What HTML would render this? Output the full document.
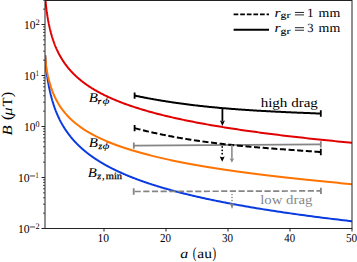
<!DOCTYPE html>
<html><head><meta charset="utf-8"><style>
html,body{margin:0;padding:0;background:#fff;}
svg{display:block;}
text{font-family:"Liberation Serif",serif;text-rendering:geometricPrecision;}
</style></head><body>
<svg width="357" height="262" viewBox="0 0 357 262">
<rect width="357" height="262" fill="#fff"/>
<defs><clipPath id="ax"><rect x="45.0" y="0.0" width="307.0" height="228.5"/></clipPath></defs>

<g clip-path="url(#ax)" fill="none" stroke-linecap="butt" stroke-linejoin="round">
<path d="M45.20,55.40 L46.13,68.04 L46.17,68.37 L46.20,68.70 L46.24,69.03 L46.28,69.35 L46.32,69.68 L46.36,70.01 L46.40,70.34 L46.44,70.66 L46.48,70.99 L46.53,71.32 L46.57,71.64 L46.61,71.97 L46.65,72.30 L46.70,72.63 L46.74,72.95 L46.78,73.28 L46.83,73.61 L46.87,73.94 L46.92,74.26 L46.96,74.59 L47.01,74.92 L47.06,75.25 L47.10,75.57 L47.15,75.90 L47.20,76.23 L47.25,76.55 L47.29,76.88 L47.34,77.21 L47.39,77.54 L47.44,77.86 L47.49,78.19 L47.54,78.52 L47.60,78.85 L47.65,79.17 L47.70,79.50 L47.75,79.83 L47.81,80.16 L47.86,80.48 L47.91,80.81 L47.97,81.14 L48.02,81.46 L48.08,81.79 L48.14,82.12 L48.19,82.45 L48.25,82.77 L48.31,83.10 L48.37,83.43 L48.43,83.76 L48.49,84.08 L48.55,84.41 L48.61,84.74 L48.67,85.07 L48.73,85.39 L48.79,85.72 L48.86,86.05 L48.92,86.37 L48.98,86.70 L49.05,87.03 L49.11,87.36 L49.18,87.68 L49.25,88.01 L49.31,88.34 L49.38,88.67 L49.45,88.99 L49.52,89.32 L49.59,89.65 L49.66,89.98 L49.73,90.30 L49.80,90.63 L49.87,90.96 L49.95,91.29 L50.02,91.61 L50.09,91.94 L50.17,92.27 L50.25,92.59 L50.32,92.92 L50.40,93.25 L50.48,93.58 L50.56,93.90 L50.63,94.23 L50.71,94.56 L50.80,94.89 L50.88,95.21 L50.96,95.54 L51.04,95.87 L51.13,96.20 L51.21,96.52 L51.30,96.85 L51.38,97.18 L51.47,97.50 L51.56,97.83 L51.65,98.16 L51.74,98.49 L51.83,98.81 L51.92,99.14 L52.01,99.47 L52.10,99.80 L52.20,100.12 L52.29,100.45 L52.39,100.78 L52.48,101.11 L52.58,101.43 L52.68,101.76 L52.78,102.09 L52.88,102.41 L52.98,102.74 L53.08,103.07 L53.18,103.40 L53.28,103.72 L53.39,104.05 L53.49,104.38 L53.60,104.71 L53.71,105.03 L53.82,105.36 L53.93,105.69 L54.04,106.02 L54.15,106.34 L54.26,106.67 L54.38,107.00 L54.49,107.32 L54.61,107.65 L54.72,107.98 L54.84,108.31 L54.96,108.63 L55.08,108.96 L55.20,109.29 L55.32,109.62 L55.45,109.94 L55.57,110.27 L55.70,110.60 L55.82,110.93 L55.95,111.25 L56.08,111.58 L56.21,111.91 L56.34,112.23 L56.48,112.56 L56.61,112.89 L56.75,113.22 L56.88,113.54 L57.02,113.87 L57.16,114.20 L57.30,114.53 L57.44,114.85 L57.59,115.18 L57.73,115.51 L57.88,115.84 L58.02,116.16 L58.17,116.49 L58.32,116.82 L58.47,117.14 L58.63,117.47 L58.78,117.80 L58.94,118.13 L59.09,118.45 L59.25,118.78 L59.41,119.11 L59.57,119.44 L59.74,119.76 L59.90,120.09 L60.07,120.42 L60.23,120.75 L60.40,121.07 L60.57,121.40 L60.75,121.73 L60.92,122.06 L61.10,122.38 L61.27,122.71 L61.45,123.04 L61.63,123.36 L61.81,123.69 L62.00,124.02 L62.18,124.35 L62.37,124.67 L62.56,125.00 L62.75,125.33 L62.94,125.66 L63.14,125.98 L63.33,126.31 L63.53,126.64 L63.73,126.97 L63.93,127.29 L64.13,127.62 L64.34,127.95 L64.55,128.27 L64.76,128.60 L64.97,128.93 L65.18,129.26 L65.39,129.58 L65.61,129.91 L65.83,130.24 L66.05,130.57 L66.27,130.89 L66.50,131.22 L66.73,131.55 L66.96,131.88 L67.19,132.20 L67.42,132.53 L67.66,132.86 L67.89,133.18 L68.13,133.51 L68.38,133.84 L68.62,134.17 L68.87,134.49 L69.12,134.82 L69.37,135.15 L69.62,135.48 L69.88,135.80 L70.14,136.13 L70.40,136.46 L70.66,136.79 L70.93,137.11 L71.20,137.44 L71.47,137.77 L71.74,138.09 L72.01,138.42 L72.29,138.75 L72.57,139.08 L72.86,139.40 L73.14,139.73 L73.43,140.06 L73.72,140.39 L74.02,140.71 L74.31,141.04 L74.61,141.37 L74.92,141.70 L75.22,142.02 L75.53,142.35 L75.84,142.68 L76.15,143.00 L76.47,143.33 L76.79,143.66 L77.11,143.99 L77.44,144.31 L77.77,144.64 L78.10,144.97 L78.43,145.30 L78.77,145.62 L79.11,145.95 L79.46,146.28 L79.80,146.61 L80.15,146.93 L80.51,147.26 L80.86,147.59 L81.23,147.91 L81.59,148.24 L81.96,148.57 L82.33,148.90 L82.70,149.22 L83.08,149.55 L83.46,149.88 L83.84,150.21 L84.23,150.53 L84.62,150.86 L85.02,151.19 L85.42,151.52 L85.82,151.84 L86.23,152.17 L86.64,152.50 L87.05,152.83 L87.47,153.15 L87.89,153.48 L88.31,153.81 L88.74,154.13 L89.18,154.46 L89.61,154.79 L90.06,155.12 L90.50,155.44 L90.95,155.77 L91.40,156.10 L91.86,156.43 L92.32,156.75 L92.79,157.08 L93.26,157.41 L93.74,157.74 L94.22,158.06 L94.70,158.39 L95.19,158.72 L95.68,159.04 L96.18,159.37 L96.68,159.70 L97.19,160.03 L97.70,160.35 L98.22,160.68 L98.74,161.01 L99.27,161.34 L99.80,161.66 L100.33,161.99 L100.87,162.32 L101.42,162.65 L101.97,162.97 L102.53,163.30 L103.09,163.63 L103.65,163.95 L104.23,164.28 L104.80,164.61 L105.38,164.94 L105.97,165.26 L106.57,165.59 L107.16,165.92 L107.77,166.25 L108.38,166.57 L108.99,166.90 L109.61,167.23 L110.24,167.56 L110.87,167.88 L111.51,168.21 L112.16,168.54 L112.81,168.86 L113.46,169.19 L114.13,169.52 L114.80,169.85 L115.47,170.17 L116.15,170.50 L116.84,170.83 L117.53,171.16 L118.23,171.48 L118.94,171.81 L119.65,172.14 L120.37,172.47 L121.10,172.79 L121.83,173.12 L122.57,173.45 L123.32,173.77 L124.07,174.10 L124.84,174.43 L125.60,174.76 L126.38,175.08 L127.16,175.41 L127.95,175.74 L128.75,176.07 L129.55,176.39 L130.36,176.72 L131.18,177.05 L132.01,177.38 L132.84,177.70 L133.69,178.03 L134.54,178.36 L135.39,178.68 L136.26,179.01 L137.13,179.34 L138.02,179.67 L138.91,179.99 L139.80,180.32 L140.71,180.65 L141.63,180.98 L142.55,181.30 L143.48,181.63 L144.42,181.96 L145.37,182.29 L146.33,182.61 L147.30,182.94 L148.28,183.27 L149.26,183.60 L150.25,183.92 L151.26,184.25 L152.27,184.58 L153.29,184.90 L154.33,185.23 L155.37,185.56 L156.42,185.89 L157.48,186.21 L158.55,186.54 L159.63,186.87 L160.72,187.20 L161.82,187.52 L162.93,187.85 L164.05,188.18 L165.19,188.51 L166.33,188.83 L167.48,189.16 L168.64,189.49 L169.82,189.81 L171.00,190.14 L172.20,190.47 L173.41,190.80 L174.62,191.12 L175.85,191.45 L177.10,191.78 L178.35,192.11 L179.61,192.43 L180.89,192.76 L182.18,193.09 L183.48,193.42 L184.79,193.74 L186.11,194.07 L187.45,194.40 L188.80,194.72 L190.16,195.05 L191.53,195.38 L192.92,195.71 L194.32,196.03 L195.73,196.36 L197.15,196.69 L198.59,197.02 L200.04,197.34 L201.51,197.67 L202.99,198.00 L204.48,198.33 L205.99,198.65 L207.51,198.98 L209.04,199.31 L210.59,199.63 L212.15,199.96 L213.73,200.29 L215.32,200.62 L216.93,200.94 L218.55,201.27 L220.19,201.60 L221.84,201.93 L223.51,202.25 L225.19,202.58 L226.89,202.91 L228.60,203.24 L230.33,203.56 L232.08,203.89 L233.84,204.22 L235.62,204.54 L237.42,204.87 L239.23,205.20 L241.06,205.53 L242.90,205.85 L244.76,206.18 L246.64,206.51 L248.54,206.84 L250.46,207.16 L252.39,207.49 L254.34,207.82 L256.31,208.15 L258.30,208.47 L260.30,208.80 L262.33,209.13 L264.37,209.45 L266.43,209.78 L268.51,210.11 L270.61,210.44 L272.73,210.76 L274.87,211.09 L277.03,211.42 L279.21,211.75 L281.41,212.07 L283.63,212.40 L285.87,212.73 L288.13,213.06 L290.41,213.38 L292.71,213.71 L295.04,214.04 L297.38,214.37 L299.75,214.69 L302.14,215.02 L304.55,215.35 L306.99,215.67 L309.44,216.00 L311.92,216.33 L314.43,216.66 L316.95,216.98 L319.50,217.31 L322.07,217.64 L324.67,217.97 L327.29,218.29 L329.94,218.62 L332.61,218.95 L335.30,219.28 L338.02,219.60 L340.76,219.93 L343.53,220.26 L346.33,220.58 L349.15,220.91 L352.00,221.24" stroke="#0a3be0" stroke-width="2"/>
<path d="M45.20,55.40 L46.13,65.95 L46.17,66.21 L46.20,66.46 L46.24,66.71 L46.28,66.96 L46.32,67.22 L46.36,67.47 L46.40,67.72 L46.44,67.97 L46.48,68.23 L46.53,68.48 L46.57,68.73 L46.61,68.98 L46.65,69.24 L46.70,69.49 L46.74,69.74 L46.78,69.99 L46.83,70.25 L46.87,70.50 L46.92,70.75 L46.96,71.00 L47.01,71.26 L47.06,71.51 L47.10,71.76 L47.15,72.01 L47.20,72.27 L47.25,72.52 L47.29,72.77 L47.34,73.02 L47.39,73.28 L47.44,73.53 L47.49,73.78 L47.54,74.03 L47.60,74.29 L47.65,74.54 L47.70,74.79 L47.75,75.04 L47.81,75.30 L47.86,75.55 L47.91,75.80 L47.97,76.05 L48.02,76.31 L48.08,76.56 L48.14,76.81 L48.19,77.06 L48.25,77.32 L48.31,77.57 L48.37,77.82 L48.43,78.07 L48.49,78.33 L48.55,78.58 L48.61,78.83 L48.67,79.08 L48.73,79.34 L48.79,79.59 L48.86,79.84 L48.92,80.09 L48.98,80.35 L49.05,80.60 L49.11,80.85 L49.18,81.10 L49.25,81.36 L49.31,81.61 L49.38,81.86 L49.45,82.11 L49.52,82.37 L49.59,82.62 L49.66,82.87 L49.73,83.12 L49.80,83.38 L49.87,83.63 L49.95,83.88 L50.02,84.13 L50.09,84.39 L50.17,84.64 L50.25,84.89 L50.32,85.15 L50.40,85.40 L50.48,85.65 L50.56,85.90 L50.63,86.16 L50.71,86.41 L50.80,86.66 L50.88,86.91 L50.96,87.17 L51.04,87.42 L51.13,87.67 L51.21,87.92 L51.30,88.18 L51.38,88.43 L51.47,88.68 L51.56,88.93 L51.65,89.19 L51.74,89.44 L51.83,89.69 L51.92,89.94 L52.01,90.20 L52.10,90.45 L52.20,90.70 L52.29,90.95 L52.39,91.21 L52.48,91.46 L52.58,91.71 L52.68,91.96 L52.78,92.22 L52.88,92.47 L52.98,92.72 L53.08,92.97 L53.18,93.23 L53.28,93.48 L53.39,93.73 L53.49,93.98 L53.60,94.24 L53.71,94.49 L53.82,94.74 L53.93,94.99 L54.04,95.25 L54.15,95.50 L54.26,95.75 L54.38,96.00 L54.49,96.26 L54.61,96.51 L54.72,96.76 L54.84,97.01 L54.96,97.27 L55.08,97.52 L55.20,97.77 L55.32,98.02 L55.45,98.28 L55.57,98.53 L55.70,98.78 L55.82,99.03 L55.95,99.29 L56.08,99.54 L56.21,99.79 L56.34,100.04 L56.48,100.30 L56.61,100.55 L56.75,100.80 L56.88,101.05 L57.02,101.31 L57.16,101.56 L57.30,101.81 L57.44,102.06 L57.59,102.32 L57.73,102.57 L57.88,102.82 L58.02,103.07 L58.17,103.33 L58.32,103.58 L58.47,103.83 L58.63,104.08 L58.78,104.34 L58.94,104.59 L59.09,104.84 L59.25,105.09 L59.41,105.35 L59.57,105.60 L59.74,105.85 L59.90,106.10 L60.07,106.36 L60.23,106.61 L60.40,106.86 L60.57,107.11 L60.75,107.37 L60.92,107.62 L61.10,107.87 L61.27,108.12 L61.45,108.38 L61.63,108.63 L61.81,108.88 L62.00,109.14 L62.18,109.39 L62.37,109.64 L62.56,109.89 L62.75,110.15 L62.94,110.40 L63.14,110.65 L63.33,110.90 L63.53,111.16 L63.73,111.41 L63.93,111.66 L64.13,111.91 L64.34,112.17 L64.55,112.42 L64.76,112.67 L64.97,112.92 L65.18,113.18 L65.39,113.43 L65.61,113.68 L65.83,113.93 L66.05,114.19 L66.27,114.44 L66.50,114.69 L66.73,114.94 L66.96,115.20 L67.19,115.45 L67.42,115.70 L67.66,115.95 L67.89,116.21 L68.13,116.46 L68.38,116.71 L68.62,116.96 L68.87,117.22 L69.12,117.47 L69.37,117.72 L69.62,117.97 L69.88,118.23 L70.14,118.48 L70.40,118.73 L70.66,118.98 L70.93,119.24 L71.20,119.49 L71.47,119.74 L71.74,119.99 L72.01,120.25 L72.29,120.50 L72.57,120.75 L72.86,121.00 L73.14,121.26 L73.43,121.51 L73.72,121.76 L74.02,122.01 L74.31,122.27 L74.61,122.52 L74.92,122.77 L75.22,123.02 L75.53,123.28 L75.84,123.53 L76.15,123.78 L76.47,124.03 L76.79,124.29 L77.11,124.54 L77.44,124.79 L77.77,125.04 L78.10,125.30 L78.43,125.55 L78.77,125.80 L79.11,126.05 L79.46,126.31 L79.80,126.56 L80.15,126.81 L80.51,127.06 L80.86,127.32 L81.23,127.57 L81.59,127.82 L81.96,128.07 L82.33,128.33 L82.70,128.58 L83.08,128.83 L83.46,129.08 L83.84,129.34 L84.23,129.59 L84.62,129.84 L85.02,130.09 L85.42,130.35 L85.82,130.60 L86.23,130.85 L86.64,131.10 L87.05,131.36 L87.47,131.61 L87.89,131.86 L88.31,132.11 L88.74,132.37 L89.18,132.62 L89.61,132.87 L90.06,133.13 L90.50,133.38 L90.95,133.63 L91.40,133.88 L91.86,134.14 L92.32,134.39 L92.79,134.64 L93.26,134.89 L93.74,135.15 L94.22,135.40 L94.70,135.65 L95.19,135.90 L95.68,136.16 L96.18,136.41 L96.68,136.66 L97.19,136.91 L97.70,137.17 L98.22,137.42 L98.74,137.67 L99.27,137.92 L99.80,138.18 L100.33,138.43 L100.87,138.68 L101.42,138.93 L101.97,139.19 L102.53,139.44 L103.09,139.69 L103.65,139.94 L104.23,140.20 L104.80,140.45 L105.38,140.70 L105.97,140.95 L106.57,141.21 L107.16,141.46 L107.77,141.71 L108.38,141.96 L108.99,142.22 L109.61,142.47 L110.24,142.72 L110.87,142.97 L111.51,143.23 L112.16,143.48 L112.81,143.73 L113.46,143.98 L114.13,144.24 L114.80,144.49 L115.47,144.74 L116.15,144.99 L116.84,145.25 L117.53,145.50 L118.23,145.75 L118.94,146.00 L119.65,146.26 L120.37,146.51 L121.10,146.76 L121.83,147.01 L122.57,147.27 L123.32,147.52 L124.07,147.77 L124.84,148.02 L125.60,148.28 L126.38,148.53 L127.16,148.78 L127.95,149.03 L128.75,149.29 L129.55,149.54 L130.36,149.79 L131.18,150.04 L132.01,150.30 L132.84,150.55 L133.69,150.80 L134.54,151.05 L135.39,151.31 L136.26,151.56 L137.13,151.81 L138.02,152.06 L138.91,152.32 L139.80,152.57 L140.71,152.82 L141.63,153.07 L142.55,153.33 L143.48,153.58 L144.42,153.83 L145.37,154.08 L146.33,154.34 L147.30,154.59 L148.28,154.84 L149.26,155.09 L150.25,155.35 L151.26,155.60 L152.27,155.85 L153.29,156.11 L154.33,156.36 L155.37,156.61 L156.42,156.86 L157.48,157.12 L158.55,157.37 L159.63,157.62 L160.72,157.87 L161.82,158.13 L162.93,158.38 L164.05,158.63 L165.19,158.88 L166.33,159.14 L167.48,159.39 L168.64,159.64 L169.82,159.89 L171.00,160.15 L172.20,160.40 L173.41,160.65 L174.62,160.90 L175.85,161.16 L177.10,161.41 L178.35,161.66 L179.61,161.91 L180.89,162.17 L182.18,162.42 L183.48,162.67 L184.79,162.92 L186.11,163.18 L187.45,163.43 L188.80,163.68 L190.16,163.93 L191.53,164.19 L192.92,164.44 L194.32,164.69 L195.73,164.94 L197.15,165.20 L198.59,165.45 L200.04,165.70 L201.51,165.95 L202.99,166.21 L204.48,166.46 L205.99,166.71 L207.51,166.96 L209.04,167.22 L210.59,167.47 L212.15,167.72 L213.73,167.97 L215.32,168.23 L216.93,168.48 L218.55,168.73 L220.19,168.98 L221.84,169.24 L223.51,169.49 L225.19,169.74 L226.89,169.99 L228.60,170.25 L230.33,170.50 L232.08,170.75 L233.84,171.00 L235.62,171.26 L237.42,171.51 L239.23,171.76 L241.06,172.01 L242.90,172.27 L244.76,172.52 L246.64,172.77 L248.54,173.02 L250.46,173.28 L252.39,173.53 L254.34,173.78 L256.31,174.03 L258.30,174.29 L260.30,174.54 L262.33,174.79 L264.37,175.04 L266.43,175.30 L268.51,175.55 L270.61,175.80 L272.73,176.05 L274.87,176.31 L277.03,176.56 L279.21,176.81 L281.41,177.06 L283.63,177.32 L285.87,177.57 L288.13,177.82 L290.41,178.07 L292.71,178.33 L295.04,178.58 L297.38,178.83 L299.75,179.08 L302.14,179.34 L304.55,179.59 L306.99,179.84 L309.44,180.10 L311.92,180.35 L314.43,180.60 L316.95,180.85 L319.50,181.11 L322.07,181.36 L324.67,181.61 L327.29,181.86 L329.94,182.12 L332.61,182.37 L335.30,182.62 L338.02,182.87 L340.76,183.13 L343.53,183.38 L346.33,183.63 L349.15,183.88 L352.00,184.14" stroke="#ff7300" stroke-width="2"/>
<path d="M44.79,-6.85 L44.82,-6.52 L44.84,-6.19 L44.87,-5.86 L44.90,-5.53 L44.92,-5.20 L44.95,-4.88 L44.98,-4.55 L45.01,-4.22 L45.04,-3.89 L45.07,-3.56 L45.10,-3.23 L45.12,-2.91 L45.15,-2.58 L45.18,-2.25 L45.21,-1.92 L45.24,-1.60 L45.28,-1.27 L45.31,-0.94 L45.34,-0.62 L45.37,-0.29 L45.40,0.04 L45.43,0.36 L45.47,0.69 L45.50,1.02 L45.53,1.34 L45.57,1.67 L45.60,1.99 L45.63,2.32 L45.67,2.65 L45.70,2.97 L45.74,3.30 L45.77,3.62 L45.81,3.95 L45.85,4.27 L45.88,4.60 L45.92,4.92 L45.96,5.25 L45.99,5.57 L46.03,5.90 L46.07,6.22 L46.11,6.55 L46.15,6.87 L46.19,7.19 L46.23,7.52 L46.27,7.84 L46.31,8.17 L46.35,8.49 L46.39,8.81 L46.43,9.14 L46.47,9.46 L46.52,9.78 L46.56,10.11 L46.60,10.43 L46.65,10.75 L46.69,11.07 L46.73,11.40 L46.78,11.72 L46.82,12.04 L46.87,12.36 L46.92,12.69 L46.96,13.01 L47.01,13.33 L47.06,13.65 L47.10,13.97 L47.15,14.29 L47.20,14.62 L47.25,14.94 L47.30,15.26 L47.35,15.58 L47.40,15.90 L47.45,16.22 L47.51,16.54 L47.56,16.86 L47.61,17.18 L47.66,17.50 L47.72,17.82 L47.77,18.14 L47.83,18.46 L47.88,18.78 L47.94,19.10 L47.99,19.42 L48.05,19.74 L48.11,20.06 L48.17,20.38 L48.22,20.70 L48.28,21.02 L48.34,21.34 L48.40,21.66 L48.46,21.98 L48.52,22.29 L48.59,22.61 L48.65,22.93 L48.71,23.25 L48.78,23.57 L48.84,23.89 L48.91,24.20 L48.97,24.52 L49.04,24.84 L49.10,25.16 L49.17,25.47 L49.24,25.79 L49.31,26.11 L49.38,26.43 L49.45,26.74 L49.52,27.06 L49.59,27.38 L49.66,27.69 L49.73,28.01 L49.81,28.32 L49.88,28.64 L49.96,28.96 L50.03,29.27 L50.11,29.59 L50.18,29.90 L50.26,30.22 L50.34,30.54 L50.42,30.85 L50.50,31.17 L50.58,31.48 L50.66,31.80 L50.74,32.11 L50.83,32.43 L50.91,32.74 L50.99,33.06 L51.08,33.37 L51.17,33.68 L51.25,34.00 L51.34,34.31 L51.43,34.63 L51.52,34.94 L51.61,35.25 L51.70,35.57 L51.79,35.88 L51.88,36.20 L51.98,36.51 L52.07,36.82 L52.17,37.13 L52.27,37.45 L52.36,37.76 L52.46,38.07 L52.56,38.39 L52.66,38.70 L52.76,39.01 L52.86,39.32 L52.97,39.63 L53.07,39.95 L53.18,40.26 L53.28,40.57 L53.39,40.88 L53.50,41.19 L53.61,41.51 L53.72,41.82 L53.83,42.13 L53.94,42.44 L54.05,42.75 L54.17,43.06 L54.28,43.37 L54.40,43.68 L54.52,43.99 L54.63,44.30 L54.75,44.61 L54.88,44.92 L55.00,45.23 L55.12,45.54 L55.25,45.85 L55.37,46.16 L55.50,46.47 L55.63,46.78 L55.75,47.09 L55.89,47.40 L56.02,47.71 L56.15,48.02 L56.28,48.33 L56.42,48.63 L56.56,48.94 L56.69,49.25 L56.83,49.56 L56.97,49.87 L57.12,50.18 L57.26,50.48 L57.40,50.79 L57.55,51.10 L57.70,51.41 L57.85,51.72 L58.00,52.02 L58.15,52.33 L58.30,52.64 L58.46,52.94 L58.61,53.25 L58.77,53.56 L58.93,53.86 L59.09,54.17 L59.25,54.48 L59.42,54.78 L59.58,55.09 L59.75,55.40 L59.92,55.70 L60.09,56.01 L60.26,56.31 L60.43,56.62 L60.61,56.93 L60.78,57.23 L60.96,57.54 L61.14,57.84 L61.32,58.15 L61.50,58.45 L61.69,58.76 L61.88,59.06 L62.07,59.37 L62.26,59.67 L62.45,59.97 L62.64,60.28 L62.84,60.58 L63.04,60.89 L63.23,61.19 L63.44,61.49 L63.64,61.80 L63.84,62.10 L64.05,62.41 L64.26,62.71 L64.47,63.01 L64.69,63.31 L64.90,63.62 L65.12,63.92 L65.34,64.22 L65.56,64.53 L65.78,64.83 L66.01,65.13 L66.23,65.43 L66.46,65.73 L66.70,66.04 L66.93,66.34 L67.17,66.64 L67.41,66.94 L67.65,67.24 L67.89,67.55 L68.14,67.85 L68.38,68.15 L68.63,68.45 L68.89,68.75 L69.14,69.05 L69.40,69.35 L69.66,69.65 L69.92,69.95 L70.19,70.25 L70.45,70.55 L70.72,70.85 L71.00,71.15 L71.27,71.45 L71.55,71.75 L71.83,72.05 L72.11,72.35 L72.40,72.65 L72.69,72.95 L72.98,73.25 L73.27,73.55 L73.57,73.85 L73.87,74.15 L74.17,74.45 L74.47,74.74 L74.78,75.04 L75.09,75.34 L75.41,75.64 L75.72,75.94 L76.04,76.24 L76.37,76.53 L76.69,76.83 L77.02,77.13 L77.35,77.43 L77.69,77.72 L78.03,78.02 L78.37,78.32 L78.71,78.62 L79.06,78.91 L79.41,79.21 L79.77,79.51 L80.13,79.80 L80.49,80.10 L80.85,80.40 L81.22,80.69 L81.59,80.99 L81.97,81.28 L82.35,81.58 L82.73,81.88 L83.12,82.17 L83.51,82.47 L83.90,82.76 L84.30,83.06 L84.70,83.35 L85.10,83.65 L85.51,83.94 L85.93,84.24 L86.34,84.53 L86.76,84.83 L87.19,85.12 L87.62,85.42 L88.05,85.71 L88.49,86.00 L88.93,86.30 L89.37,86.59 L89.82,86.89 L90.27,87.18 L90.73,87.47 L91.19,87.77 L91.66,88.06 L92.13,88.35 L92.61,88.65 L93.09,88.94 L93.57,89.23 L94.06,89.52 L94.56,89.82 L95.05,90.11 L95.56,90.40 L96.06,90.69 L96.58,90.99 L97.10,91.28 L97.62,91.57 L98.15,91.86 L98.68,92.15 L99.22,92.45 L99.76,92.74 L100.31,93.03 L100.86,93.32 L101.42,93.61 L101.98,93.90 L102.55,94.19 L103.12,94.48 L103.70,94.77 L104.29,95.06 L104.88,95.35 L105.48,95.64 L106.08,95.93 L106.69,96.22 L107.30,96.51 L107.92,96.80 L108.54,97.09 L109.18,97.38 L109.81,97.67 L110.46,97.96 L111.10,98.25 L111.76,98.54 L112.42,98.83 L113.09,99.12 L113.76,99.41 L114.44,99.70 L115.13,99.98 L115.83,100.27 L116.53,100.56 L117.23,100.85 L117.95,101.14 L118.67,101.43 L119.39,101.71 L120.13,102.00 L120.87,102.29 L121.62,102.58 L122.37,102.86 L123.13,103.15 L123.90,103.44 L124.68,103.72 L125.46,104.01 L126.26,104.30 L127.06,104.58 L127.86,104.87 L128.68,105.16 L129.50,105.44 L130.33,105.73 L131.17,106.02 L132.01,106.30 L132.87,106.59 L133.73,106.87 L134.60,107.16 L135.48,107.44 L136.36,107.73 L137.26,108.01 L138.16,108.30 L139.07,108.58 L139.99,108.87 L140.92,109.15 L141.86,109.44 L142.81,109.72 L143.76,110.01 L144.73,110.29 L145.70,110.58 L146.69,110.86 L147.68,111.14 L148.68,111.43 L149.69,111.71 L150.72,112.00 L151.75,112.28 L152.79,112.56 L153.84,112.85 L154.90,113.13 L155.97,113.41 L157.05,113.69 L158.14,113.98 L159.24,114.26 L160.36,114.54 L161.48,114.82 L162.61,115.11 L163.76,115.39 L164.91,115.67 L166.08,115.95 L167.25,116.23 L168.44,116.52 L169.64,116.80 L170.85,117.08 L172.07,117.36 L173.31,117.64 L174.55,117.92 L175.81,118.20 L177.08,118.48 L178.36,118.77 L179.65,119.05 L180.96,119.33 L182.28,119.61 L183.61,119.89 L184.95,120.17 L186.31,120.45 L187.67,120.73 L189.06,121.01 L190.45,121.29 L191.86,121.57 L193.28,121.85 L194.72,122.13 L196.16,122.40 L197.63,122.68 L199.10,122.96 L200.59,123.24 L202.10,123.52 L203.61,123.80 L205.15,124.08 L206.70,124.36 L208.26,124.63 L209.83,124.91 L211.43,125.19 L213.03,125.47 L214.66,125.75 L216.29,126.02 L217.95,126.30 L219.61,126.58 L221.30,126.86 L223.00,127.13 L224.72,127.41 L226.45,127.69 L228.20,127.96 L229.96,128.24 L231.75,128.52 L233.55,128.79 L235.36,129.07 L237.20,129.35 L239.05,129.62 L240.92,129.90 L242.81,130.17 L244.71,130.45 L246.63,130.73 L248.57,131.00 L250.53,131.28 L252.51,131.55 L254.51,131.83 L256.52,132.10 L258.56,132.38 L260.61,132.65 L262.68,132.93 L264.78,133.20 L266.89,133.48 L269.02,133.75 L271.18,134.03 L273.35,134.30 L275.54,134.57 L277.76,134.85 L280.00,135.12 L282.25,135.40 L284.53,135.67 L286.83,135.94 L289.15,136.22 L291.50,136.49 L293.87,136.76 L296.25,137.03 L298.67,137.31 L301.10,137.58 L303.56,137.85 L306.04,138.13 L308.54,138.40 L311.07,138.67 L313.62,138.94 L316.20,139.21 L318.80,139.49 L321.42,139.76 L324.07,140.03 L326.75,140.30 L329.45,140.57 L332.18,140.84 L334.93,141.12 L337.71,141.39 L340.51,141.66 L343.34,141.93 L346.20,142.20 L349.09,142.47 L352.00,142.74" stroke="#e00000" stroke-width="2"/>
<line x1="133.8" y1="145.6" x2="320.8" y2="144.4" stroke="#858585" stroke-width="1.7"/>
<line x1="133.80" y1="142.40" x2="133.80" y2="148.80" stroke="#858585" stroke-width="1.8"/>
<line x1="320.80" y1="141.20" x2="320.80" y2="147.60" stroke="#858585" stroke-width="1.8"/>
<line x1="133.7" y1="191.5" x2="320.9" y2="190.9" stroke="#858585" stroke-width="1.7" stroke-dasharray="6.2,2.457" stroke-dashoffset="-0.9"/>
<line x1="133.70" y1="188.30" x2="133.70" y2="194.70" stroke="#858585" stroke-width="1.8"/>
<line x1="320.90" y1="187.70" x2="320.90" y2="194.10" stroke="#858585" stroke-width="1.8"/>
<path d="M134.60,128.13 L135.54,128.38 L136.47,128.62 L137.41,128.87 L138.34,129.11 L139.28,129.35 L140.21,129.58 L141.15,129.82 L142.09,130.05 L143.02,130.28 L143.96,130.51 L144.89,130.73 L145.83,130.96 L146.76,131.18 L147.70,131.40 L148.64,131.62 L149.57,131.84 L150.51,132.05 L151.44,132.27 L152.38,132.48 L153.31,132.69 L154.25,132.90 L155.18,133.10 L156.12,133.31 L157.06,133.51 L157.99,133.71 L158.93,133.91 L159.86,134.11 L160.80,134.30 L161.73,134.50 L162.67,134.69 L163.61,134.88 L164.54,135.07 L165.48,135.25 L166.41,135.44 L167.35,135.62 L168.28,135.81 L169.22,135.99 L170.16,136.16 L171.09,136.34 L172.03,136.52 L172.96,136.69 L173.90,136.86 L174.83,137.04 L175.77,137.20 L176.71,137.37 L177.64,137.54 L178.58,137.70 L179.51,137.87 L180.45,138.03 L181.38,138.19 L182.32,138.35 L183.26,138.51 L184.19,138.66 L185.13,138.82 L186.06,138.97 L187.00,139.12 L187.93,139.27 L188.87,139.42 L189.81,139.57 L190.74,139.71 L191.68,139.86 L192.61,140.00 L193.55,140.14 L194.48,140.29 L195.42,140.42 L196.35,140.56 L197.29,140.70 L198.23,140.84 L199.16,140.97 L200.10,141.10 L201.03,141.24 L201.97,141.37 L202.90,141.50 L203.84,141.62 L204.78,141.75 L205.71,141.88 L206.65,142.00 L207.58,142.13 L208.52,142.25 L209.45,142.37 L210.39,142.49 L211.33,142.61 L212.26,142.73 L213.20,142.84 L214.13,142.96 L215.07,143.07 L216.00,143.19 L216.94,143.30 L217.88,143.41 L218.81,143.52 L219.75,143.63 L220.68,143.74 L221.62,143.85 L222.55,143.96 L223.49,144.06 L224.43,144.17 L225.36,144.27 L226.30,144.37 L227.23,144.48 L228.17,144.58 L229.10,144.68 L230.04,144.78 L230.97,144.87 L231.91,144.97 L232.85,145.07 L233.78,145.16 L234.72,145.26 L235.65,145.35 L236.59,145.45 L237.52,145.54 L238.46,145.63 L239.40,145.72 L240.33,145.81 L241.27,145.90 L242.20,145.99 L243.14,146.08 L244.07,146.17 L245.01,146.26 L245.95,146.34 L246.88,146.43 L247.82,146.51 L248.75,146.60 L249.69,146.68 L250.62,146.76 L251.56,146.85 L252.50,146.93 L253.43,147.01 L254.37,147.09 L255.30,147.17 L256.24,147.25 L257.17,147.33 L258.11,147.41 L259.05,147.48 L259.98,147.56 L260.92,147.64 L261.85,147.71 L262.79,147.79 L263.72,147.87 L264.66,147.94 L265.59,148.01 L266.53,148.09 L267.47,148.16 L268.40,148.24 L269.34,148.31 L270.27,148.38 L271.21,148.45 L272.14,148.53 L273.08,148.60 L274.02,148.67 L274.95,148.74 L275.89,148.81 L276.82,148.88 L277.76,148.95 L278.69,149.02 L279.63,149.09 L280.57,149.16 L281.50,149.23 L282.44,149.29 L283.37,149.36 L284.31,149.43 L285.24,149.50 L286.18,149.57 L287.12,149.63 L288.05,149.70 L288.99,149.77 L289.92,149.84 L290.86,149.90 L291.79,149.97 L292.73,150.04 L293.67,150.10 L294.60,150.17 L295.54,150.24 L296.47,150.30 L297.41,150.37 L298.34,150.44 L299.28,150.50 L300.22,150.57 L301.15,150.63 L302.09,150.70 L303.02,150.77 L303.96,150.83 L304.89,150.90 L305.83,150.97 L306.76,151.03 L307.70,151.10 L308.64,151.17 L309.57,151.23 L310.51,151.30 L311.44,151.37 L312.38,151.44 L313.31,151.50 L314.25,151.57 L315.19,151.64 L316.12,151.71 L317.06,151.77 L317.99,151.84 L318.93,151.91 L319.86,151.98 L320.80,152.05" stroke="#000" stroke-width="2" stroke-dasharray="6.05,2.6"/>
<line x1="134.60" y1="124.93" x2="134.60" y2="131.33" stroke="#000" stroke-width="1.8"/>
<line x1="320.80" y1="148.85" x2="320.80" y2="155.25" stroke="#000" stroke-width="1.8"/>
<path d="M134.60,95.58 L135.54,95.77 L136.47,95.97 L137.41,96.16 L138.34,96.35 L139.28,96.54 L140.21,96.73 L141.15,96.92 L142.09,97.10 L143.02,97.29 L143.96,97.47 L144.89,97.65 L145.83,97.83 L146.76,98.01 L147.70,98.19 L148.64,98.36 L149.57,98.53 L150.51,98.71 L151.44,98.88 L152.38,99.05 L153.31,99.21 L154.25,99.38 L155.18,99.54 L156.12,99.71 L157.06,99.87 L157.99,100.03 L158.93,100.19 L159.86,100.35 L160.80,100.50 L161.73,100.66 L162.67,100.81 L163.61,100.96 L164.54,101.11 L165.48,101.26 L166.41,101.41 L167.35,101.56 L168.28,101.70 L169.22,101.85 L170.16,101.99 L171.09,102.13 L172.03,102.27 L172.96,102.41 L173.90,102.55 L174.83,102.68 L175.77,102.82 L176.71,102.95 L177.64,103.08 L178.58,103.21 L179.51,103.34 L180.45,103.47 L181.38,103.60 L182.32,103.73 L183.26,103.85 L184.19,103.98 L185.13,104.10 L186.06,104.22 L187.00,104.34 L187.93,104.46 L188.87,104.58 L189.81,104.69 L190.74,104.81 L191.68,104.92 L192.61,105.04 L193.55,105.15 L194.48,105.26 L195.42,105.37 L196.35,105.48 L197.29,105.59 L198.23,105.70 L199.16,105.80 L200.10,105.91 L201.03,106.01 L201.97,106.11 L202.90,106.22 L203.84,106.32 L204.78,106.42 L205.71,106.52 L206.65,106.61 L207.58,106.71 L208.52,106.81 L209.45,106.90 L210.39,106.99 L211.33,107.09 L212.26,107.18 L213.20,107.27 L214.13,107.36 L215.07,107.45 L216.00,107.54 L216.94,107.62 L217.88,107.71 L218.81,107.80 L219.75,107.88 L220.68,107.96 L221.62,108.05 L222.55,108.13 L223.49,108.21 L224.43,108.29 L225.36,108.37 L226.30,108.45 L227.23,108.53 L228.17,108.60 L229.10,108.68 L230.04,108.76 L230.97,108.83 L231.91,108.90 L232.85,108.98 L233.78,109.05 L234.72,109.12 L235.65,109.19 L236.59,109.26 L237.52,109.33 L238.46,109.40 L239.40,109.47 L240.33,109.54 L241.27,109.60 L242.20,109.67 L243.14,109.73 L244.07,109.80 L245.01,109.86 L245.95,109.92 L246.88,109.99 L247.82,110.05 L248.75,110.11 L249.69,110.17 L250.62,110.23 L251.56,110.29 L252.50,110.35 L253.43,110.41 L254.37,110.46 L255.30,110.52 L256.24,110.58 L257.17,110.63 L258.11,110.69 L259.05,110.74 L259.98,110.80 L260.92,110.85 L261.85,110.91 L262.79,110.96 L263.72,111.01 L264.66,111.06 L265.59,111.11 L266.53,111.16 L267.47,111.21 L268.40,111.26 L269.34,111.31 L270.27,111.36 L271.21,111.41 L272.14,111.46 L273.08,111.51 L274.02,111.55 L274.95,111.60 L275.89,111.65 L276.82,111.69 L277.76,111.74 L278.69,111.78 L279.63,111.83 L280.57,111.87 L281.50,111.92 L282.44,111.96 L283.37,112.01 L284.31,112.05 L285.24,112.09 L286.18,112.14 L287.12,112.18 L288.05,112.22 L288.99,112.26 L289.92,112.30 L290.86,112.34 L291.79,112.38 L292.73,112.43 L293.67,112.47 L294.60,112.51 L295.54,112.55 L296.47,112.59 L297.41,112.63 L298.34,112.66 L299.28,112.70 L300.22,112.74 L301.15,112.78 L302.09,112.82 L303.02,112.86 L303.96,112.90 L304.89,112.94 L305.83,112.97 L306.76,113.01 L307.70,113.05 L308.64,113.09 L309.57,113.12 L310.51,113.16 L311.44,113.20 L312.38,113.24 L313.31,113.27 L314.25,113.31 L315.19,113.35 L316.12,113.39 L317.06,113.42 L317.99,113.46 L318.93,113.50 L319.86,113.53 L320.80,113.57" stroke="#000" stroke-width="2"/>
<line x1="134.60" y1="92.38" x2="134.60" y2="98.78" stroke="#000" stroke-width="1.8"/>
<line x1="320.80" y1="110.37" x2="320.80" y2="116.77" stroke="#000" stroke-width="1.8"/>
</g>
<line x1="222.4" y1="108.1160625244612" x2="222.4" y2="121.1" stroke="#000" stroke-width="1.8"/><path d="M219.90,120.60 L222.40,121.40 L224.90,120.60 L222.40,126.00 Z" fill="#000"/>
<circle cx="222.2" cy="146.9" r="0.9" fill="#000"/><circle cx="222.2" cy="150.3" r="0.9" fill="#000"/><circle cx="222.2" cy="153.7" r="0.9" fill="#000"/><path d="M219.70,156.50 L222.20,157.30 L224.70,156.50 L222.20,161.80 Z" fill="#000"/>
<line x1="231.9" y1="144.8" x2="231.9" y2="158.70000000000002" stroke="#858585" stroke-width="1.5"/><path d="M229.70,158.20 L231.90,159.00 L234.10,158.20 L231.90,162.80 Z" fill="#858585"/>
<circle cx="232.0" cy="194.5" r="0.8" fill="#858585"/><circle cx="232.0" cy="197.5" r="0.8" fill="#858585"/><circle cx="232.0" cy="200.6" r="0.8" fill="#858585"/><path d="M229.70,203.00 L232.00,203.80 L234.30,203.00 L232.00,209.00 Z" fill="#858585"/>
<g stroke="#222" stroke-width="1" fill="none">
<rect x="45.0" y="0.5" width="307.0" height="228.0"/>
<line x1="104.00" y1="228.5" x2="104.00" y2="231.5"/>
<line x1="166.00" y1="228.5" x2="166.00" y2="231.5"/>
<line x1="228.00" y1="228.5" x2="228.00" y2="231.5"/>
<line x1="290.00" y1="228.5" x2="290.00" y2="231.5"/>
<line x1="352.00" y1="228.5" x2="352.00" y2="231.5"/>
<line x1="41.5" y1="228.50" x2="45.0" y2="228.50"/>
<line x1="43.0" y1="213.15" x2="45.0" y2="213.15" stroke-width="0.8"/>
<line x1="43.0" y1="204.17" x2="45.0" y2="204.17" stroke-width="0.8"/>
<line x1="43.0" y1="197.79" x2="45.0" y2="197.79" stroke-width="0.8"/>
<line x1="43.0" y1="192.85" x2="45.0" y2="192.85" stroke-width="0.8"/>
<line x1="43.0" y1="188.81" x2="45.0" y2="188.81" stroke-width="0.8"/>
<line x1="43.0" y1="185.40" x2="45.0" y2="185.40" stroke-width="0.8"/>
<line x1="43.0" y1="182.44" x2="45.0" y2="182.44" stroke-width="0.8"/>
<line x1="43.0" y1="179.83" x2="45.0" y2="179.83" stroke-width="0.8"/>
<line x1="41.5" y1="177.50" x2="45.0" y2="177.50"/>
<line x1="43.0" y1="162.15" x2="45.0" y2="162.15" stroke-width="0.8"/>
<line x1="43.0" y1="153.17" x2="45.0" y2="153.17" stroke-width="0.8"/>
<line x1="43.0" y1="146.79" x2="45.0" y2="146.79" stroke-width="0.8"/>
<line x1="43.0" y1="141.85" x2="45.0" y2="141.85" stroke-width="0.8"/>
<line x1="43.0" y1="137.81" x2="45.0" y2="137.81" stroke-width="0.8"/>
<line x1="43.0" y1="134.40" x2="45.0" y2="134.40" stroke-width="0.8"/>
<line x1="43.0" y1="131.44" x2="45.0" y2="131.44" stroke-width="0.8"/>
<line x1="43.0" y1="128.83" x2="45.0" y2="128.83" stroke-width="0.8"/>
<line x1="41.5" y1="126.50" x2="45.0" y2="126.50"/>
<line x1="43.0" y1="111.15" x2="45.0" y2="111.15" stroke-width="0.8"/>
<line x1="43.0" y1="102.17" x2="45.0" y2="102.17" stroke-width="0.8"/>
<line x1="43.0" y1="95.79" x2="45.0" y2="95.79" stroke-width="0.8"/>
<line x1="43.0" y1="90.85" x2="45.0" y2="90.85" stroke-width="0.8"/>
<line x1="43.0" y1="86.81" x2="45.0" y2="86.81" stroke-width="0.8"/>
<line x1="43.0" y1="83.40" x2="45.0" y2="83.40" stroke-width="0.8"/>
<line x1="43.0" y1="80.44" x2="45.0" y2="80.44" stroke-width="0.8"/>
<line x1="43.0" y1="77.83" x2="45.0" y2="77.83" stroke-width="0.8"/>
<line x1="41.5" y1="75.50" x2="45.0" y2="75.50"/>
<line x1="43.0" y1="60.15" x2="45.0" y2="60.15" stroke-width="0.8"/>
<line x1="43.0" y1="51.17" x2="45.0" y2="51.17" stroke-width="0.8"/>
<line x1="43.0" y1="44.79" x2="45.0" y2="44.79" stroke-width="0.8"/>
<line x1="43.0" y1="39.85" x2="45.0" y2="39.85" stroke-width="0.8"/>
<line x1="43.0" y1="35.81" x2="45.0" y2="35.81" stroke-width="0.8"/>
<line x1="43.0" y1="32.40" x2="45.0" y2="32.40" stroke-width="0.8"/>
<line x1="43.0" y1="29.44" x2="45.0" y2="29.44" stroke-width="0.8"/>
<line x1="43.0" y1="26.83" x2="45.0" y2="26.83" stroke-width="0.8"/>
<line x1="41.5" y1="24.50" x2="45.0" y2="24.50"/>
<line x1="43.0" y1="9.15" x2="45.0" y2="9.15" stroke-width="0.8"/>
<line x1="43.0" y1="0.17" x2="45.0" y2="0.17" stroke-width="0.8"/>
</g>
<g fill="#000">
<text x="97.53" y="242.30" font-size="12" textLength="11.56" lengthAdjust="spacingAndGlyphs">10</text>
<text x="160.07" y="242.30" font-size="12" textLength="11.00" lengthAdjust="spacingAndGlyphs">20</text>
<text x="222.02" y="242.30" font-size="12" textLength="11.05" lengthAdjust="spacingAndGlyphs">30</text>
<text x="284.34" y="242.30" font-size="12" textLength="10.72" lengthAdjust="spacingAndGlyphs">40</text>
<text x="345.90" y="242.30" font-size="12" textLength="11.17" lengthAdjust="spacingAndGlyphs">50</text>
<text x="17.97" y="232.60" font-size="12" textLength="11.67" lengthAdjust="spacingAndGlyphs">10</text>
<rect x="29.8" y="226.60" width="5.3" height="0.75"/>
<text x="35.54" y="228.90" font-size="8.5" textLength="4.12" lengthAdjust="spacingAndGlyphs">2</text>
<text x="17.97" y="181.60" font-size="12" textLength="11.67" lengthAdjust="spacingAndGlyphs">10</text>
<rect x="29.8" y="175.60" width="5.3" height="0.75"/>
<text x="35.55" y="177.90" font-size="8.5" textLength="3.12" lengthAdjust="spacingAndGlyphs">1</text>
<text x="24.09" y="130.60" font-size="12" textLength="11.44" lengthAdjust="spacingAndGlyphs">10</text>
<text x="35.49" y="126.70" font-size="8.5" textLength="4.01" lengthAdjust="spacingAndGlyphs">0</text>
<text x="24.09" y="79.60" font-size="12" textLength="11.44" lengthAdjust="spacingAndGlyphs">10</text>
<text x="35.75" y="75.70" font-size="8.5" textLength="3.12" lengthAdjust="spacingAndGlyphs">1</text>
<text x="24.09" y="28.60" font-size="12" textLength="11.44" lengthAdjust="spacingAndGlyphs">10</text>
<text x="35.43" y="24.70" font-size="8.5" textLength="4.24" lengthAdjust="spacingAndGlyphs">2</text>
</g>
<text x="180.32" y="257.90" font-size="13.5" font-style="italic" textLength="7.97" lengthAdjust="spacingAndGlyphs">a</text>
<text x="192.72" y="257.90" font-size="15.5" textLength="3.63" lengthAdjust="spacingAndGlyphs">(</text>
<text x="197.36" y="257.90" font-size="13.5" textLength="14.61" lengthAdjust="spacingAndGlyphs">au</text>
<text x="212.45" y="257.90" font-size="15.5" textLength="3.63" lengthAdjust="spacingAndGlyphs">)</text>
<g transform="translate(11.5,135.4) rotate(-90)"><text x="-0.15" y="0.00" font-size="14" font-style="italic" textLength="10.12" lengthAdjust="spacingAndGlyphs">B</text><text x="15.21" y="0.00" font-size="15.5" textLength="5.96" lengthAdjust="spacingAndGlyphs">(</text><text x="19.62" y="0.00" font-size="14" font-style="italic" textLength="8.34" lengthAdjust="spacingAndGlyphs">μ</text><text x="28.83" y="0.00" font-size="14" textLength="9.12" lengthAdjust="spacingAndGlyphs">T</text><text x="38.07" y="0.00" font-size="15.5" textLength="5.45" lengthAdjust="spacingAndGlyphs">)</text></g>
<text x="88.76" y="101.80" font-size="13.5" font-style="italic" textLength="9.17" lengthAdjust="spacingAndGlyphs">B</text>
<text x="97.65" y="103.90" font-size="8.5" font-style="italic" textLength="3.32" lengthAdjust="spacingAndGlyphs" stroke="#000" stroke-width="0.35">r</text>
<text x="102.49" y="103.90" font-size="9.5" font-style="italic" textLength="7.03" lengthAdjust="spacingAndGlyphs">ϕ</text>
<text x="88.76" y="146.70" font-size="13.5" font-style="italic" textLength="9.17" lengthAdjust="spacingAndGlyphs">B</text>
<text x="98.50" y="148.80" font-size="9.5" font-style="italic" textLength="3.62" lengthAdjust="spacingAndGlyphs" stroke="#000" stroke-width="0.25">z</text>
<text x="102.59" y="148.80" font-size="9.5" font-style="italic" textLength="6.92" lengthAdjust="spacingAndGlyphs">ϕ</text>
<text x="87.86" y="176.90" font-size="13.5" font-style="italic" textLength="9.06" lengthAdjust="spacingAndGlyphs">B</text>
<text x="97.31" y="178.90" font-size="9.5" font-style="italic" textLength="3.92" lengthAdjust="spacingAndGlyphs" stroke="#000" stroke-width="0.25">z</text>
<text x="102.27" y="178.90" font-size="9.5" textLength="2.18" lengthAdjust="spacingAndGlyphs" stroke="#000" stroke-width="0.25">,</text>
<text x="105.78" y="178.90" font-size="9.5" textLength="16.28" lengthAdjust="spacingAndGlyphs" stroke="#000" stroke-width="0.25">min</text>
<text x="260.65" y="107.30" font-size="13" textLength="57.23" lengthAdjust="spacingAndGlyphs">high drag</text>
<text x="260.20" y="203.80" font-size="13" fill="#888" textLength="52.18" lengthAdjust="spacingAndGlyphs">low drag</text>
<line x1="233.6" y1="14.3" x2="269" y2="14.3" stroke="#000" stroke-width="1.7" stroke-dasharray="4.7,1.9"/>
<line x1="233.6" y1="29.8" x2="269" y2="29.8" stroke="#000" stroke-width="2"/>
<text x="274.57" y="16.90" font-size="13" font-style="italic" textLength="6.09" lengthAdjust="spacingAndGlyphs">r</text>
<text x="280.59" y="18.40" font-size="8.8" textLength="9.81" lengthAdjust="spacingAndGlyphs" stroke="#000" stroke-width="0.1">gr</text>
<rect x="294.9" y="11.95" width="9.1" height="0.9" fill="#111"/>
<rect x="294.9" y="14.45" width="9.1" height="0.9" fill="#111"/>
<text x="307.13" y="16.90" font-size="12.5" textLength="6.68" lengthAdjust="spacingAndGlyphs">1</text>
<text x="318.61" y="16.90" font-size="12.5" textLength="21.61" lengthAdjust="spacingAndGlyphs">mm</text>
<text x="274.57" y="32.20" font-size="13" font-style="italic" textLength="6.09" lengthAdjust="spacingAndGlyphs">r</text>
<text x="280.59" y="33.70" font-size="8.8" textLength="9.81" lengthAdjust="spacingAndGlyphs" stroke="#000" stroke-width="0.1">gr</text>
<rect x="294.9" y="27.25" width="9.1" height="0.9" fill="#111"/>
<rect x="294.9" y="29.75" width="9.1" height="0.9" fill="#111"/>
<text x="307.20" y="32.20" font-size="12.5" textLength="6.29" lengthAdjust="spacingAndGlyphs">3</text>
<text x="318.61" y="32.20" font-size="12.5" textLength="21.61" lengthAdjust="spacingAndGlyphs">mm</text>
</svg></body></html>
